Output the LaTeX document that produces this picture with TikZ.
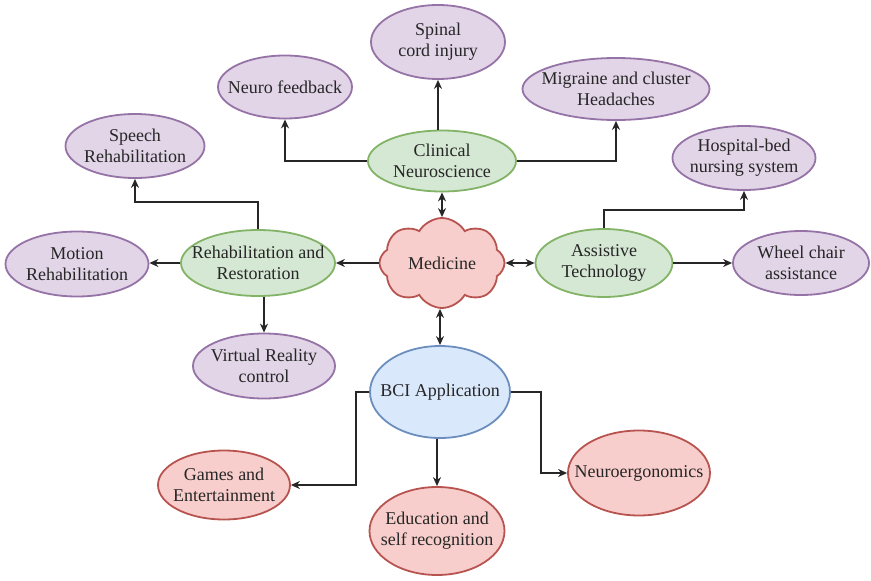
\documentclass[tikz,border=0pt]{standalone}
\usepackage{fontspec}
\setmainfont{Liberation Serif}
\usetikzlibrary{shapes.geometric,shapes.symbols,arrows.meta}
\definecolor{pfill}{HTML}{E1D5E7}\definecolor{pdraw}{HTML}{9673A6}
\definecolor{gfill}{HTML}{D5E8D4}\definecolor{gdraw}{HTML}{82B366}
\definecolor{rfill}{HTML}{F8CECC}\definecolor{rdraw}{HTML}{B85450}
\definecolor{bfill}{HTML}{DAE8FC}\definecolor{bdraw}{HTML}{6C8EBF}
\definecolor{ink}{HTML}{262626}
\tikzset{
  ell/.style={ellipse,inner sep=0pt,line width=1.8pt},
  purp/.style={ell,fill=pfill,draw=pdraw},
  grn/.style={ell,fill=gfill,draw=gdraw},
  red/.style={ell,fill=rfill,draw=rdraw},
  blu/.style={ell,fill=bfill,draw=bdraw},
  txt/.style={label={[align=center,font=\fontsize{18}{21}\selectfont,text=ink]center:#1}},
  arr/.style={-{Stealth[length=9pt,width=8pt]},line width=1.3pt,draw=ink},
  darr/.style={{Stealth[length=9pt,width=8pt]}-{Stealth[length=9pt,width=8pt]},line width=1.3pt,draw=ink}
}
\begin{document}
\begin{tikzpicture}[x=1pt,y=-1pt]
\useasboundingbox (0,0) rectangle (871,581);
% nodes
\node[purp,minimum width=134pt,minimum height=74pt,txt={Spinal\\cord injury}] (sci) at (438,42) {};
\node[purp,minimum width=134pt,minimum height=63pt,txt={Neuro feedback}] (nf) at (285,87) {};
\node[purp,minimum width=187pt,minimum height=62pt,txt={Migraine and cluster\\Headaches}] (mig) at (616,89) {};
\node[grn,minimum width=148pt,minimum height=61pt,txt={Clinical\\Neuroscience}] (clin) at (442,161) {};
\node[purp,minimum width=143pt,minimum height=64pt,txt={Hospital-bed\\nursing system}] (hosp) at (744,158) {};
\node[purp,minimum width=139pt,minimum height=64pt,txt={Speech\\Rehabilitation}] (sp) at (135,146) {};
\node[grn,minimum width=154pt,minimum height=66pt,txt={Rehabilitation and\\Restoration}] (reh) at (258,263) {};
\node[cloud,cloud puffs=8,cloud puff arc=120,aspect=1.4,inner sep=0pt,minimum width=125pt,minimum height=90pt,fill=rfill,draw=rdraw,line width=1.8pt,txt={Medicine}] (med) at (442,263) {};
\node[grn,minimum width=137pt,minimum height=68pt,txt={Assistive\\Technology}] (ast) at (604,263) {};
\node[purp,minimum width=136pt,minimum height=64pt,txt={Wheel chair\\assistance}] (wc) at (801,263) {};
\node[purp,minimum width=143pt,minimum height=65pt,txt={Motion\\Rehabilitation}] (mot) at (77,264) {};
\node[purp,minimum width=142pt,minimum height=65pt,txt={Virtual Reality\\control}] (vr) at (264,366) {};
\node[blu,minimum width=140pt,minimum height=92pt,txt={BCI Application}] (bci) at (440,392) {};
\node[red,minimum width=132pt,minimum height=69pt,txt={Games and\\Entertainment}] (gam) at (224,485) {};
\node[red,minimum width=135pt,minimum height=88pt,txt={Education and\\self recognition}] (edu) at (437,531) {};
\node[red,minimum width=142pt,minimum height=85pt,txt={Neuroergonomics}] (neu) at (639,473) {};
% connectors
\draw[arr] (clin.north -| sci.south) -- (sci.south);
\draw[arr] (clin.west) -| (nf.south);
\draw[arr] (clin.east) -| (mig.south);
\draw[darr] (med.north -| clin.south) -- (clin.south);
\draw[arr] (med.west) -- (med.west -| reh.east);
\draw[arr] (reh.north) -- ++(0,-27) -| (sp.south);
\draw[arr] (reh.west) -- (reh.west -| mot.east);
\draw[arr] (reh.south -| vr.north) -- (vr.north);
\draw[darr] (med.east) -- (med.east -| ast.west);
\draw[arr] (ast.north) -- ++(0,-18) -| (hosp.south);
\draw[arr] (ast.east) -- (ast.east -| wc.west);
\draw[darr] (med.south -| bci.north) -- (bci.north);
\draw[arr] (bci.west) -- ++(-13,0) |- (gam.east);
\draw[arr] (bci.south -| edu.north) -- (edu.north);
\draw[arr] (bci.east) -- ++(30,0) |- (neu.west);
\end{tikzpicture}
\end{document}
